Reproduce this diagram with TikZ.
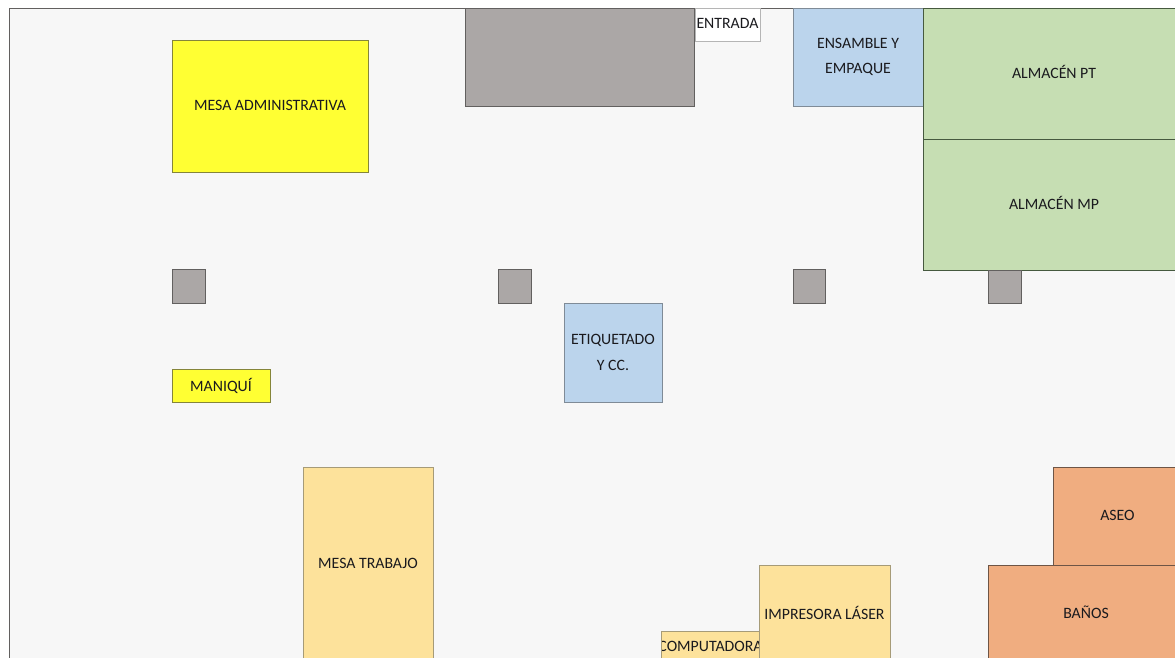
\documentclass[tikz,border=0pt]{standalone}
\usepackage{fontspec}
\setmainfont{Carlito}
\definecolor{floorc}{HTML}{F7F7F7}
\definecolor{inkc}{HTML}{1A1A1E}
\definecolor{yellowc}{HTML}{FFFF33}\definecolor{yellowd}{HTML}{85853A}
\definecolor{greyc}{HTML}{ABA7A6}\definecolor{greyd}{HTML}{62605F}
\definecolor{whited}{HTML}{B5B5B5}
\definecolor{bluec}{HTML}{BBD4EC}\definecolor{blued}{HTML}{7F8B97}
\definecolor{greenc}{HTML}{C6DEB3}\definecolor{greend}{HTML}{46593F}
\definecolor{sandc}{HTML}{FDE29B}\definecolor{sandd}{HTML}{A69B78}
\definecolor{orangec}{HTML}{F0AD80}\definecolor{oranged}{HTML}{6E5546}
\tikzset{
  x=1pt,y=1pt,
  room/.style={rectangle,inner sep=0pt,outer sep=0pt,line width=0.9pt,text=inkc,align=center,font=\fontsize{15.8}{25.5}\selectfont},
  yellowroom/.style={room,fill=yellowc,draw=yellowd},
  greyroom/.style={room,fill=greyc,draw=greyd},
  blueroom/.style={room,fill=bluec,draw=blued},
  greenroom/.style={room,fill=greenc,draw=greend},
  sandroom/.style={room,fill=sandc,draw=sandd},
  orangeroom/.style={room,fill=orangec,draw=oranged},
}
\newcommand{\roomat}[7][]{%
  \node[#2,#1,minimum width={#5-#3},minimum height={#6-(#4)}] (r#3x#4) at ({(#3+#5)/2},{-(#4+#6)/2}) {#7};}
\begin{document}
\begin{tikzpicture}
\useasboundingbox (0,0) rectangle (1175,-658);
\clip (0,0) rectangle (1175,-658);
\fill[white] (0,0) rectangle (1175,-658);
\roomat[fill=floorc,draw=greyd]{room}{9}{8}{1195}{680}{}
\roomat{yellowroom}{172}{40}{368}{172}{\raisebox{1pt}{MESA ADMINISTRATIVA}}
\roomat{greyroom}{465}{8}{694}{106}{}
\roomat[fill=white,draw=whited]{room}{695}{8}{760}{41}{\raisebox{2pt}{ENTRADA}}
\roomat{blueroom}{793}{8}{923}{106}{ENSAMBLE Y\\[-1pt]EMPAQUE}
\roomat{greenroom}{923}{8}{1185}{139}{\raisebox{3pt}{ALMACÉN PT}}
\roomat{greenroom}{923}{139}{1185}{270}{\raisebox{4pt}{ALMACÉN MP}}
\roomat{greyroom}{172}{269}{205}{303}{}
\roomat{greyroom}{498}{269}{531}{303}{}
\roomat{greyroom}{793}{269}{825}{303}{}
\roomat{greyroom}{988}{270}{1021}{303}{}
\roomat{blueroom}{564}{303}{662}{402}{ETIQUETADO\\Y CC.}
\roomat{yellowroom}{172}{369}{270}{402}{\raisebox{0.5pt}{MANIQUÍ}}
\roomat{sandroom}{303}{467}{433}{660}{MESA TRABAJO}
\roomat[path picture={\node[room,minimum width=0pt,minimum height=0pt] (comptext) at ([yshift=2.5pt]path picture bounding box.center) {COMPUTADORA};}]{sandroom}{661}{631}{760}{666}{}
\roomat{sandroom}{759}{565}{890}{660}{IMPRESORA LÁSER}
\roomat{orangeroom}{1053}{467}{1182}{565}{\raisebox{1.5pt}{ASEO}}
\roomat{orangeroom}{988}{565}{1184}{660}{BAÑOS}
\end{tikzpicture}
\end{document}
